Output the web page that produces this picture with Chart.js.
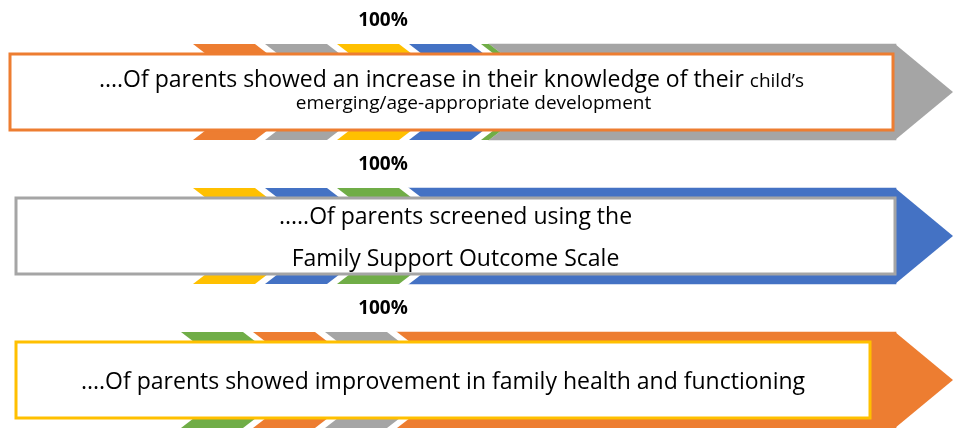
<!DOCTYPE html>
<html lang="en">
<head>
<meta charset="UTF-8">
<title>Parent Outcomes</title>
<script src="https://cdn.jsdelivr.net/npm/chart.js"></script>
<style>
    html, body { margin: 0; padding: 0; background: #fff; }
    canvas { display: block; }
</style>
</head>
<body>
<canvas id="outcomeChart" width="953" height="428"></canvas>
<script>
// one row per outcome, all at 100%
const outcomes = ['Knowledge of development', 'Screened with FSOS', 'Family health and functioning'];
const percents = [100, 100, 100];
const line1 = [
    '....Of parents showed an increase in their knowledge of their ',
    '.....Of parents screened using the',
    '....Of parents showed improvement in family health and functioning'
];
const line1Small = ['child\u2019s', '', ''];
const line2 = ['emerging/age-appropriate development', 'Family Support Outcome Scale', ''];

const arrowColors = ['#A5A5A5', '#4472C4', '#ED7D31'];
const boxColors = ['#ED7D31', '#A5A5A5', '#FFC000'];
const stripeColors = [
    ['#ED7D31', '#A5A5A5', '#FFC000', '#4472C4', '#70AD47'],
    ['#FFC000', '#4472C4', '#70AD47'],
    ['#70AD47', '#ED7D31', '#A5A5A5']
];

// per-row layout tweaks (px)
const rowStyle = [
    { stripeStart: 12, bodyStart: 308, boxLeft: 10, boxRight: 893, base1: -5, base2: 17, small: true, line2Shift: 22 },
    { stripeStart: 12, bodyStart: 228, boxLeft: 16, boxRight: 895, base1: -12, base2: 30, small: false, line2Shift: 0 },
    { stripeStart: 0, bodyStart: 216, boxLeft: 16, boxRight: 870, base1: 9, base2: 0, small: false, line2Shift: 0 }
];

const FONT = '"Open Sans", sans-serif';
const HEAD = 57;
const SLANT = 1.3;

const arrowPlugin = {
    id: 'arrowPlugin',
    afterDatasetsDraw(chart) {
        const ctx = chart.ctx;
        const meta = chart.getDatasetMeta(0);
        meta.data.forEach((bar, i) => {
            const st = rowStyle[i];
            const h = bar.height;
            const top = bar.y - h / 2;
            const bottom = bar.y + h / 2;

            // arrow head
            ctx.fillStyle = arrowColors[i];
            ctx.beginPath();
            ctx.moveTo(bar.x - 1, top);
            ctx.lineTo(bar.x + HEAD, bar.y);
            ctx.lineTo(bar.x - 1, bottom);
            ctx.closePath();
            ctx.fill();

            // white tail with chevron notch, stripes clipped inside it
            const bx = bar.base + st.bodyStart;
            ctx.save();
            ctx.beginPath();
            ctx.moveTo(bar.base - 2, top - 3);
            ctx.lineTo(bx - SLANT * 3, top - 3);
            ctx.lineTo(bx + SLANT * h / 2, bar.y);
            ctx.lineTo(bx - SLANT * 3, bottom + 3);
            ctx.lineTo(bar.base - 2, bottom + 3);
            ctx.closePath();
            ctx.fillStyle = '#fff';
            ctx.fill();
            ctx.clip();
            const band = 16;
            stripeColors[i].forEach((c, k) => {
                const x0 = bar.base + st.stripeStart + k * 72;
                ctx.fillStyle = c;
                ctx.beginPath();
                ctx.moveTo(x0, top);
                ctx.lineTo(x0 + 62, top);
                ctx.lineTo(x0 + 62 + SLANT * band, top + band);
                ctx.lineTo(x0 + SLANT * band, top + band);
                ctx.closePath();
                ctx.fill();
                ctx.beginPath();
                ctx.moveTo(x0, bottom);
                ctx.lineTo(x0 + 62, bottom);
                ctx.lineTo(x0 + 62 + SLANT * band, bottom - band);
                ctx.lineTo(x0 + SLANT * band, bottom - band);
                ctx.closePath();
                ctx.fill();
            });
            ctx.restore();

            // text box
            const bTop = top + 10;
            const bH = h - 20;
            ctx.fillStyle = '#fff';
            ctx.fillRect(st.boxLeft, bTop, st.boxRight - st.boxLeft, bH);
            ctx.strokeStyle = boxColors[i];
            ctx.lineWidth = 3;
            ctx.strokeRect(st.boxLeft, bTop, st.boxRight - st.boxLeft, bH);

            // texts
            const cx = (st.boxLeft + st.boxRight) / 2;
            ctx.fillStyle = '#000';
            ctx.textBaseline = 'alphabetic';
            ctx.textAlign = 'left';
            const big = '23px ' + FONT;
            const sm = '19px ' + FONT;
            ctx.font = big;
            const w1 = ctx.measureText(line1[i]).width;
            ctx.font = sm;
            const w2 = line1Small[i] ? ctx.measureText(line1Small[i]).width : 0;
            const x1 = cx - (w1 + w2) / 2;
            ctx.font = big;
            ctx.fillText(line1[i], x1, bar.y + st.base1);
            if (line1Small[i]) {
                ctx.font = sm;
                ctx.fillText(line1Small[i], x1 + w1, bar.y + st.base1);
            }
            if (line2[i]) {
                ctx.font = st.small ? sm : big;
                ctx.textAlign = 'center';
                ctx.fillText(line2[i], cx + st.line2Shift, bar.y + st.base2);
            }

            // percentage above the arrow
            ctx.font = 'bold 19px ' + FONT;
            ctx.textAlign = 'center';
            ctx.fillText(percents[i] + '%', 383, top - 18);
        });
    }
};

new Chart(document.getElementById('outcomeChart'), {
    type: 'bar',
    data: {
        labels: outcomes,
        datasets: [{
            data: percents,
            backgroundColor: arrowColors,
            borderWidth: 0,
            barThickness: 96,
            clip: false
        }]
    },
    options: {
        indexAxis: 'y',
        responsive: false,
        animation: false,
        layout: { padding: { left: 181, right: 57, top: 92, bottom: 48 } },
        scales: {
            x: { min: 0, max: 100, display: false },
            y: { offset: false, display: false }
        },
        plugins: {
            legend: { display: false },
            tooltip: { enabled: false }
        }
    },
    plugins: [arrowPlugin]
});
</script>
</body>
</html>
